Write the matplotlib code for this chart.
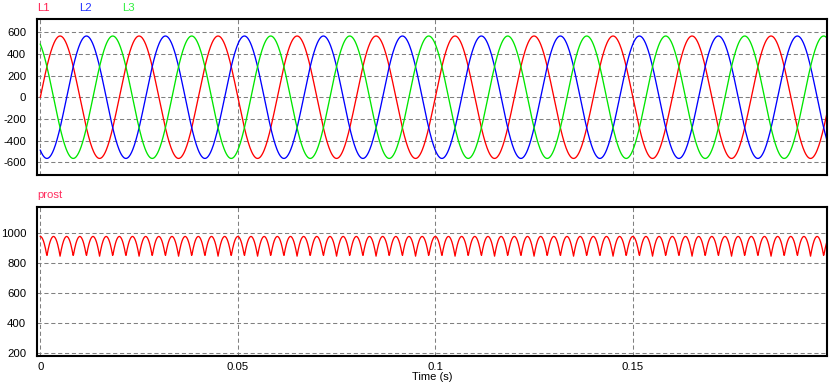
# -*- coding: utf-8 -*-
"""
Three phase supply (L1, L2, L3) and the rectified output "prost",
redrawn as a PSIM style waveform window.
"""

import numpy as np
import matplotlib
matplotlib.use("Agg")
import matplotlib.pyplot as plt

# values
phase_names = ["L1", "L2", "L3"]
phase_colors = ["#ff0000", "#0000ff", "#00e600"]
label_colors = ["#ff2050", "#2030ff", "#30f040"]
phase_shift_deg = [0, -120, 120]
amplitude = 565.0        # V peak
frequency = 50.0         # Hz
t_end = 0.1992           # s, last simulated sample
time_step = 1e-4         # s

top_yticks = [-600, -400, -200, 0, 200, 400, 600]
bottom_yticks = [200, 400, 600, 800, 1000]
x_ticks = [0, 0.05, 0.1, 0.15]
x_ticklabels = ["0", "0.05", "0.1", "0.15"]

# sampled simulation time
t = np.arange(0, t_end + time_step / 2, time_step)
phases = [amplitude * np.sin(2 * np.pi * frequency * t + np.radians(p))
          for p in phase_shift_deg]
# six pulse bridge output
prost = np.max(phases, axis=0) - np.min(phases, axis=0)

plt.rcParams["font.family"] = ["Liberation Sans", "DejaVu Sans"]
plt.rcParams["font.size"] = 8
plt.rcParams["axes.unicode_minus"] = False

fig = plt.figure(figsize=(8.35, 3.87), dpi=100)
ax1 = fig.add_axes([0.0447, 0.5478, 0.9454, 0.4031])
ax2 = fig.add_axes([0.0447, 0.0801, 0.9454, 0.3850])

grid_style = dict(color="#808080", linewidth=0.75, linestyle=(0, (4, 2.6)))

for ax, yticks in ((ax1, top_yticks), (ax2, bottom_yticks)):
    ax.set_xlim(-0.00076, 0.1991)
    ax.set_xticks(x_ticks)
    ax.set_yticks(yticks)
    ax.grid(True, **grid_style)
    ax.tick_params(length=0, pad=8, labelsize=8.2)
    for s in ax.spines.values():
        s.set_linewidth(1.5)
    ax.set_axisbelow(True)

for y, c in zip(phases, phase_colors):
    ax1.plot(t, y, color=c, linewidth=0.95)
ax1.set_ylim(-718, 722)
ax1.set_xticklabels([])

ax2.plot(t, prost, color="#ff0000", linewidth=0.95)
ax2.set_ylim(182, 1175)
ax2.set_xticklabels(x_ticklabels)
ax2.tick_params(axis="x", pad=4)
ax2.set_xlabel("Time (s)", fontsize=8, labelpad=0)

# trace names above each panel
for name, c, xpix in zip(phase_names, label_colors, [37, 79, 122]):
    fig.text(xpix / 835, 1 - 8 / 387, name, color=c, fontsize=8.2, va="center")
fig.text(37 / 835, 1 - 195 / 387, "prost", color="#ff3060", fontsize=8.2,
         va="center")

fig.savefig("out.png", dpi=100)
plt.close(fig)
